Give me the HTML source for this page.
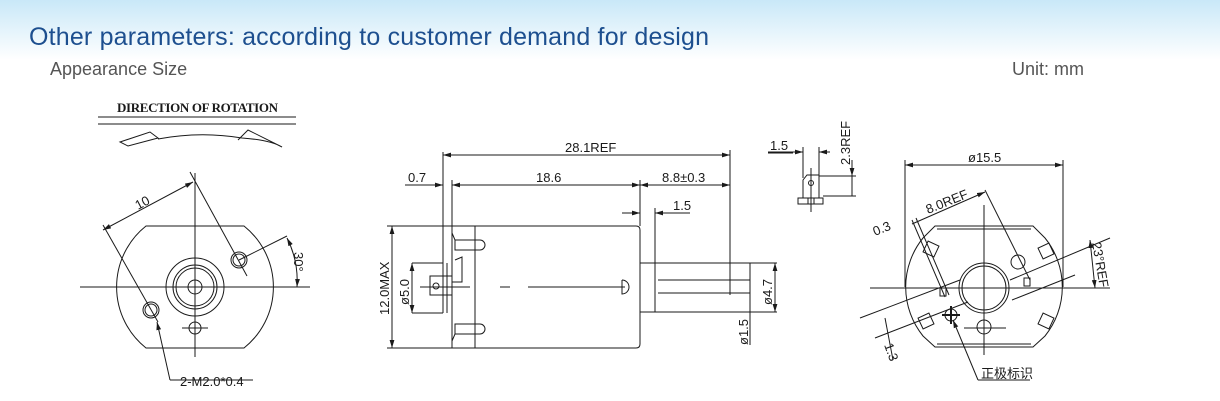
<!DOCTYPE html>
<html><head><meta charset="utf-8"><style>
html,body{margin:0;padding:0;width:1220px;height:401px;overflow:hidden;background:#fff}
.bg{position:absolute;left:0;top:0;width:1220px;height:60px;background:linear-gradient(#c9e8f8,#fff)}
svg{position:absolute;left:0;top:0}
</style></head><body>
<div class="bg"></div>
<svg width="1220" height="401" viewBox="0 0 1220 401" font-family="Liberation Sans, sans-serif">
<defs>
<marker id="a" viewBox="0 0 10 6" refX="10" refY="3" markerWidth="8" markerHeight="5" orient="auto-start-reverse"><path d="M0 0 L10 3 L0 6 Z" fill="#1a1a1a"/></marker>
</defs>
<text x="29" y="45" font-size="25" fill="#1d4f8f" textLength="680">Other parameters: according to customer demand for design</text>
<text x="50" y="75" font-size="18" fill="#555">Appearance Size</text>
<text x="1012" y="75" font-size="18" fill="#555">Unit: mm</text>
<g stroke="#1a1a1a" stroke-width="1" fill="none">
<!-- LEFT VIEW -->
<line x1="98" y1="117" x2="296" y2="117"/><line x1="98" y1="124" x2="296" y2="124"/>
<path d="M120 142 L150 132 L158 138 L128 146 Z M158 139 Q200 131 242 138 M242 138 Q270 140 282 147 L248 130 L238 140"/>
<path d="M146 226 L244 226 A78 78 0 0 1 244 348 L146 348 A78 78 0 0 1 146 226 Z"/>
<circle cx="195" cy="287" r="29"/><circle cx="195" cy="287" r="22"/><circle cx="195" cy="287" r="19"/><circle cx="195" cy="287" r="7"/>
<circle cx="195" cy="328" r="6"/><line x1="182" y1="328" x2="208" y2="328"/>
<circle cx="239" cy="260" r="8"/><circle cx="239" cy="260" r="6"/>
<circle cx="151" cy="310" r="8"/><circle cx="151" cy="310" r="6"/>
<line x1="80" y1="287" x2="310" y2="287"/><line x1="195" y1="173" x2="195" y2="357"/>
<line x1="103" y1="230" x2="193" y2="182" marker-start="url(#a)" marker-end="url(#a)"/>
<line x1="103" y1="225" x2="158" y2="322"/>
<line x1="190" y1="172" x2="247" y2="276"/>
<line x1="239" y1="260" x2="287" y2="236"/>
<path d="M287 238 A95 95 0 0 1 297 287" marker-start="url(#a)" marker-end="url(#a)"/>
<polyline points="170,380 157,322" marker-end="url(#a)"/><line x1="170" y1="380" x2="253" y2="380"/>
<!-- MIDDLE VIEW -->
<path d="M452 226 L636 226 Q640 226 640 230 L640 344 Q640 348 636 348 L452 348 Z"/>
<line x1="475" y1="226" x2="475" y2="348"/>
<line x1="443" y1="263" x2="443" y2="313"/><line x1="412" y1="263" x2="443" y2="263"/><line x1="412" y1="313" x2="443" y2="313"/>
<line x1="447" y1="263" x2="447" y2="313"/>
<path d="M452 233 L455 240 L475 240 M455 240 L455 250 L475 250 M452 341 L455 334 L475 334 M455 334 L455 324 L475 324"/>
<path d="M475 240 L480 240 A5 5 0 0 1 480 250 L475 250 M475 324 L480 324 A5 5 0 0 1 480 334 L475 334"/>
<path d="M455 260 L462 257 L462 282 L452 282 L452 295 L430 295 L430 276 L452 276 M436 286 m-3 0 a3 3 0 1 0 6 0 a3 3 0 1 0 -6 0"/>
<path d="M622 280 A7 7 0 0 1 622 294 L622 280"/>
<rect x="640" y="263" width="15" height="49"/>
<line x1="655" y1="263" x2="777" y2="263"/><line x1="655" y1="312" x2="777" y2="312"/>
<line x1="658" y1="280" x2="750" y2="280"/><line x1="658" y1="293" x2="750" y2="293"/>
<line x1="420" y1="287" x2="470" y2="287"/><line x1="500" y1="287" x2="510" y2="287"/><line x1="528" y1="287" x2="625" y2="287"/>
<line x1="443" y1="152" x2="443" y2="263"/><line x1="452" y1="180" x2="452" y2="226"/>
<line x1="640" y1="180" x2="640" y2="226"/><line x1="730" y1="150" x2="730" y2="295"/>
<line x1="655" y1="208" x2="655" y2="263"/>
<line x1="443" y1="155" x2="730" y2="155" marker-start="url(#a)" marker-end="url(#a)"/>
<line x1="405" y1="185" x2="443" y2="185" marker-end="url(#a)"/>
<line x1="452" y1="185" x2="640" y2="185" marker-start="url(#a)" marker-end="url(#a)"/>
<line x1="640" y1="185" x2="730" y2="185" marker-start="url(#a)" marker-end="url(#a)"/>
<line x1="622" y1="213" x2="640" y2="213" marker-end="url(#a)"/><line x1="655" y1="213" x2="690" y2="213" marker-start="url(#a)"/>
<line x1="387" y1="226" x2="452" y2="226"/><line x1="387" y1="348" x2="452" y2="348"/>
<line x1="392" y1="226" x2="392" y2="348" marker-start="url(#a)" marker-end="url(#a)"/>
<line x1="412" y1="263" x2="412" y2="313" marker-start="url(#a)" marker-end="url(#a)"/>
<line x1="775" y1="263" x2="775" y2="312" marker-start="url(#a)" marker-end="url(#a)"/>
<line x1="750" y1="263" x2="750" y2="345"/>
<!-- SMALL VIEW -->
<line x1="768" y1="152" x2="803" y2="152" marker-end="url(#a)"/><line x1="819" y1="152" x2="830" y2="152" marker-start="url(#a)"/>
<line x1="803" y1="147" x2="803" y2="178"/><line x1="819" y1="147" x2="819" y2="178"/>
<path d="M803 198 L803 180 L807 175 L819 175 L819 198"/><circle cx="811" cy="183" r="2.5"/>
<rect x="798" y="198" width="25" height="6"/><line x1="808" y1="198" x2="808" y2="204"/><line x1="814" y1="198" x2="814" y2="204"/>
<line x1="811" y1="168" x2="811" y2="212"/>
<line x1="819" y1="176" x2="856" y2="176"/><line x1="823" y1="196" x2="856" y2="196"/>
<line x1="852" y1="160" x2="852" y2="176" marker-end="url(#a)"/><line x1="852" y1="196" x2="852" y2="176"/>
<!-- RIGHT VIEW -->
<path d="M935 226 L1033 226 L1045 238 A78 78 0 0 1 1045 336 L1033 347 L935 347 L923 336 A78 78 0 0 1 923 238 Z"/>
<path d="M937 229 L1031 229 M937 344 L1031 344"/>
<circle cx="984" cy="288" r="25"/><circle cx="984" cy="288" r="22"/>
<circle cx="984" cy="327" r="7"/><line x1="964" y1="328" x2="1006" y2="328"/>
<circle cx="1018" cy="262" r="7"/>
<line x1="905" y1="165" x2="1063" y2="165" marker-start="url(#a)" marker-end="url(#a)"/>
<line x1="905" y1="160" x2="905" y2="287"/><line x1="1063" y1="160" x2="1063" y2="287"/>
<line x1="870" y1="288" x2="1110" y2="288"/><line x1="984" y1="205" x2="984" y2="355"/>
<line x1="912" y1="224" x2="985" y2="192" marker-end="url(#a)"/>
<line x1="985" y1="190" x2="1030" y2="280"/>
<line x1="912" y1="220" x2="945" y2="297"/><line x1="916" y1="218" x2="949" y2="295"/>
<line x1="860" y1="318" x2="960" y2="280"/><line x1="875" y1="338" x2="968" y2="302"/>
<line x1="1010" y1="280" x2="1110" y2="238"/><line x1="1012" y1="300" x2="1075" y2="275"/>
<rect x="925" y="243" width="12" height="12" transform="rotate(25 931 249)"/>
<rect x="1040" y="245" width="12" height="12" transform="rotate(-25 1046 251)"/>
<rect x="920" y="315" width="12" height="12" transform="rotate(-25 926 321)"/>
<rect x="1040" y="315" width="12" height="12" transform="rotate(25 1046 321)"/>
<rect x="940" y="288" width="6" height="8"/><rect x="1024" y="278" width="6" height="8"/>
<line x1="1090" y1="240" x2="1095" y2="288" marker-start="url(#a)" marker-end="url(#a)"/>
<line x1="885" y1="318" x2="893" y2="360"/>
<circle cx="951" cy="315" r="6"/><line x1="942" y1="315" x2="960" y2="315" stroke-width="2"/><line x1="951" y1="306" x2="951" y2="324" stroke-width="2"/>
<polyline points="978,380 953,320" marker-end="url(#a)"/><line x1="978" y1="380" x2="1030" y2="380"/>
<line x1="768" y1="153" x2="793" y2="153"/>
</g>
<g font-size="13" fill="#1a1a1a">
<text x="117" y="112" font-family="Liberation Serif, serif" font-weight="bold" font-size="13" textLength="161">DIRECTION  OF  ROTATION</text>
<text x="138" y="210" transform="rotate(-28 138 210)">10</text>
<text x="294" y="252" transform="rotate(90 294 252)">30°</text>
<text x="180" y="386">2-M2.0*0.4</text>
<text x="565" y="152">28.1REF</text>
<text x="408" y="182">0.7</text>
<text x="536" y="182">18.6</text>
<text x="662" y="182">8.8±0.3</text>
<text x="673" y="210">1.5</text>
<text x="389" y="315" transform="rotate(-90 389 315)">12.0MAX</text>
<text x="409" y="305" transform="rotate(-90 409 305)">ø5.0</text>
<text x="772" y="305" transform="rotate(-90 772 305)">ø4.7</text>
<text x="748" y="345" transform="rotate(-90 748 345)">ø1.5</text>
<text x="770" y="150">1.5</text>
<text x="850" y="165" transform="rotate(-90 850 165)">2.3REF</text>
<text x="968" y="162">ø15.5</text>
<text x="928" y="214" transform="rotate(-22 928 214)">8.0REF</text>
<text x="875" y="236" transform="rotate(-22 875 236)">0.3</text>
<text x="1092" y="243" transform="rotate(80 1092 243)">23°REF</text>
<text x="884" y="345" transform="rotate(70 884 345)">1.3</text>
<text x="981" y="378" font-family="Liberation Sans, Noto Sans CJK SC, sans-serif">正极标识</text>
</g>
</svg>
</body></html>
